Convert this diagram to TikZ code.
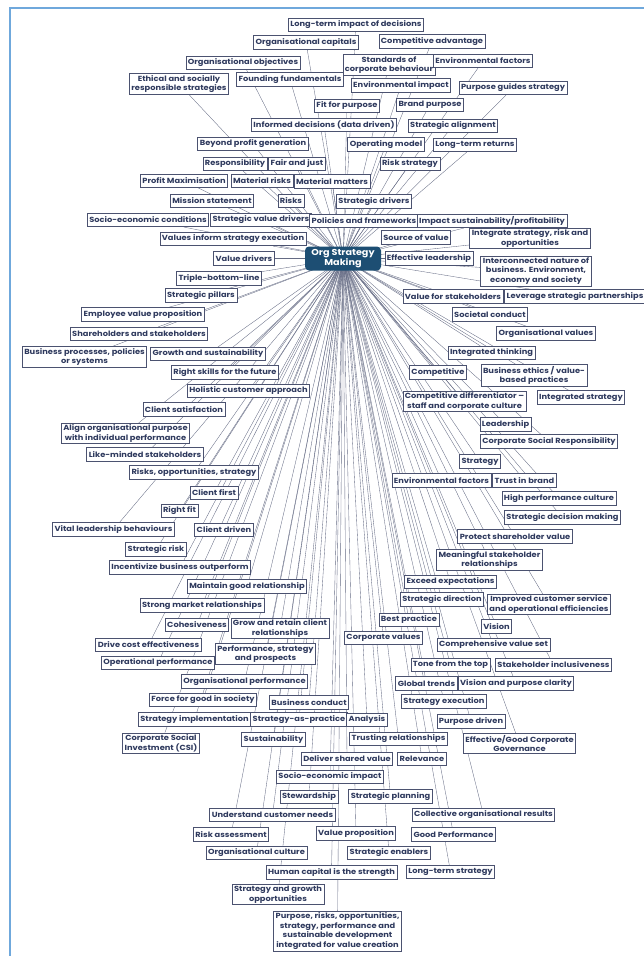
\documentclass[tikz,border=0pt]{standalone}
\usepackage{fontspec}
\setmainfont{Poppins}[FakeStretch=1.12]
\usetikzlibrary{backgrounds}
\definecolor{navy}{HTML}{2F3A5E}
\definecolor{edge}{HTML}{4B5270}
\definecolor{spoke}{HTML}{656B84}
\definecolor{hubfill}{HTML}{1D4E73}
\definecolor{frame}{HTML}{6FA8DC}

\begin{document}
\begin{tikzpicture}[x=1pt, y=-1pt,
    lbl/.style={draw=edge, fill=white, line width=0.7pt, text=navy,
        font=\fontsize{7.4}{9.6}\selectfont\bfseries, align=center,
        inner xsep=2pt, inner ysep=1.5pt, minimum height=13.5pt},
    hub/.style={fill=hubfill, rounded corners=4pt, text=white,
        font=\fontsize{8.6}{10}\selectfont\bfseries, align=center,
        minimum width=76pt, minimum height=24pt, inner sep=1pt},
    link/.style={draw=spoke, line width=0.35pt}]
    \useasboundingbox (0,0) rectangle (644,956);
    % blue frame
    \draw[frame, line width=2pt] (10,956) -- (10,8) -- (644,8);

    \node (org) [hub] at (343,258.5) {Org Strategy\\Making};

    % above the hub
    \node (ltimpact) [lbl] at (356,25) {Long-term impact of decisions};
    \node (orgcap) [lbl] at (306,42.5) {Organisational capitals};
    \node (compadv) [lbl] at (432,41.5) {Competitive advantage};
    \node (orgobj) [lbl] at (243,63) {Organisational objectives};
    \node (standards) [lbl] at (389,65) {Standards of\\corporate behaviour};
    \node (envfact) [lbl] at (483,61) {Environmental factors};
    \node (ethical) [lbl] at (179,84) {Ethical and socially\\responsible strategies};
    \node (founding) [lbl] at (290,79.5) {Founding fundamentals};
    \node (envimpact) [lbl] at (401,85.5) {Environmental impact};
    \node (purpguides) [lbl] at (513,88) {Purpose guides strategy};
    \node (fitpurp) [lbl] at (347,106) {Fit for purpose};
    \node (brandpurp) [lbl] at (430,105) {Brand purpose};
    \node (informed) [lbl] at (324,125) {Informed decisions (data driven)};
    \node (stratalign) [lbl] at (453,126) {Strategic alignment};
    \node (beyondprofit) [lbl] at (253,144) {Beyond profit generation};
    \node (opmodel) [lbl] at (386,144.5) {Operating model};
    \node (ltreturns) [lbl] at (475,145) {Long-term returns};
    \node (respons) [lbl] at (235,164) {Responsibility};
    \node (fairjust) [lbl] at (297,164) {Fair and just};
    \node (riskstrat) [lbl] at (410,164) {Risk strategy};
    \node (profitmax) [lbl] at (184,181) {Profit Maximisation};
    \node (matrisks) [lbl] at (262,181) {Material risks};
    \node (matmatters) [lbl] at (332,181.5) {Material matters};
    \node (mission) [lbl] at (212,201) {Mission statement};
    \node (risks) [lbl] at (291,201) {Risks};
    \node (stratdrivers) [lbl] at (374,201.5) {Strategic drivers};
    \node (socioecon) [lbl] at (148,220) {Socio-economic conditions};
    \node (stratvaldrv) [lbl] at (261,220) {Strategic value drivers};
    \node (policies) [lbl] at (364,221) {Policies and frameworks};
    \node (impactsust) [lbl] at (492,221) {Impact sustainability/profitability};
    \node (valinform) [lbl] at (233,239) {Values inform strategy execution};
    \node (sourceval) [lbl] at (416,237.5) {Source of value};
    \node (integrisk) [lbl] at (530,238.5) {Integrate strategy, risk and\\opportunities};

    % beside the hub
    \node (effleader) [lbl] at (429,258.5) {Effective leadership};
    \node (interconn) [lbl] at (536,271) {Interconnected nature of\\business. Environment,\\economy and society};
    \node (valdrivers) [lbl] at (244,258.5) {Value drivers};
    \node (triple) [lbl] at (219,278.5) {Triple-bottom-line};
    \node (pillars) [lbl] at (201,295.5) {Strategic pillars};
    \node (valstake) [lbl] at (453,296.5) {Value for stakeholders};
    \node (leverage) [lbl] at (575,296.5) {Leverage strategic partnerships};
    \node (evp) [lbl] at (143,314.5) {Employee value proposition};
    \node (societal) [lbl] at (490,314.5) {Societal conduct};
    \node (sharehold) [lbl] at (139,334) {Shareholders and stakeholders};
    \node (orgvalues) [lbl] at (546,333.5) {Organisational values};
    \node (bizproc) [lbl] at (84.5,357) {Business processes, policies\\or systems};
    \node (growth) [lbl] at (208,354) {Growth and sustainability};
    \node (intthink) [lbl] at (491.5,353) {Integrated thinking};
    \node (rightskills) [lbl] at (225,372.5) {Right skills for the future};
    \node (competitive) [lbl] at (438,372.5) {Competitive};
    \node (bizethics) [lbl] at (534,375.5) {Business ethics / value-\\based practices};
    \node (holistic) [lbl] at (248.5,391) {Holistic customer approach};
    \node (compdiff) [lbl] at (464.5,401.5) {Competitive differentiator --\\staff and corporate culture};
    \node (intstrat) [lbl] at (581,397.5) {Integrated strategy};
    \node (clientsat) [lbl] at (184,409.5) {Client satisfaction};
    \node (alignpurp) [lbl] at (125.5,433.5) {Align organisational purpose\\with individual performance};
    \node (leadership) [lbl] at (505.5,424.5) {Leadership};
    \node (csr) [lbl] at (549,441.5) {Corporate Social Responsibility};
    \node (likeminded) [lbl] at (145,454.5) {Like-minded stakeholders};
    \node (strategy) [lbl] at (480,461.5) {Strategy};
    \node (riskopp) [lbl] at (194,472.5) {Risks, opportunities, strategy};
    \node (envfact2) [lbl] at (441.5,480.5) {Environmental factors};
    \node (trust) [lbl] at (524.5,480.5) {Trust in brand};
    \node (clientfirst) [lbl] at (214,493) {Client first};
    \node (highperf) [lbl] at (559,498.5) {High performance culture};
    \node (rightfit) [lbl] at (179.5,511) {Right fit};
    \node (stratdec) [lbl] at (562.5,517.5) {Strategic decision making};
    \node (vital) [lbl] at (113.5,529.5) {Vital leadership behaviours};
    \node (clientdriven) [lbl] at (224,530) {Client driven};
    \node (protect) [lbl] at (515,536.5) {Protect shareholder value};
    \node (stratrisk) [lbl] at (156,549.5) {Strategic risk};
    \node (meaningful) [lbl] at (489.5,560) {Meaningful stakeholder\\relationships};
    \node (incentivize) [lbl] at (180,567.5) {Incentivize business outperform};

    % below the hub
    \node (maintain) [lbl] at (247,586.5) {Maintain good relationship};
    \node (exceed) [lbl] at (450.5,582) {Exceed expectations};
    \node (stratdir) [lbl] at (442,599.5) {Strategic direction};
    \node (improved) [lbl] at (549,604.5) {Improved customer service\\and operational efficiencies};
    \node (strongmkt) [lbl] at (202,605.5) {Strong market relationships};
    \node (cohesive) [lbl] at (197,625) {Cohesiveness};
    \node (growretain) [lbl] at (280,628.5) {Grow and retain client\\relationships};
    \node (bestprac) [lbl] at (409,620) {Best practice};
    \node (vision) [lbl] at (496.5,626.5) {Vision};
    \node (drivecost) [lbl] at (148.5,645) {Drive cost effectiveness};
    \node (perfstrat) [lbl] at (265.5,654) {Performance, strategy\\and prospects};
    \node (corpvalues) [lbl] at (383.5,638) {Corporate values};
    \node (compvalset) [lbl] at (493.5,645) {Comprehensive value set};
    \node (opperf) [lbl] at (158,663) {Operational performance};
    \node (tone) [lbl] at (450.5,665) {Tone from the top};
    \node (stakeincl) [lbl] at (553.5,665) {Stakeholder inclusiveness};
    \node (orgperf) [lbl] at (244.5,681.5) {Organisational performance};
    \node (global) [lbl] at (426.5,683.5) {Global trends};
    \node (visionclar) [lbl] at (516,683.5) {Vision and purpose clarity};
    \node (forcegood) [lbl] at (203,700) {Force for good in society};
    \node (bizconduct) [lbl] at (309,702.5) {Business conduct};
    \node (stratexec) [lbl] at (444,701.5) {Strategy execution};
    \node (stratimpl) [lbl] at (194.5,719.5) {Strategy implementation};
    \node (stratprac) [lbl] at (299,719.5) {Strategy-as-practice};
    \node (analysis) [lbl] at (367,720) {Analysis};
    \node (purpdriven) [lbl] at (471,721.5) {Purpose driven};
    \node (csi) [lbl] at (161,743) {Corporate Social\\Investment (CSI)};
    \node (sustain) [lbl] at (273.5,739.5) {Sustainability};
    \node (trusting) [lbl] at (398.5,739) {Trusting relationships};
    \node (governance) [lbl] at (519.5,743.5) {Effective/Good Corporate\\Governance};
    \node (shared) [lbl] at (347,759) {Deliver shared value};
    \node (relevance) [lbl] at (422,759) {Relevance};
    \node (socioimpact) [lbl] at (330,777) {Socio-economic impact};
    \node (steward) [lbl] at (309,797) {Stewardship};
    \node (stratplan) [lbl] at (390.5,796.5) {Strategic planning};
    \node (understand) [lbl] at (272.5,815) {Understand customer needs};
    \node (collective) [lbl] at (483.5,815) {Collective organisational results};
    \node (riskassess) [lbl] at (231,834.5) {Risk assessment};
    \node (valprop) [lbl] at (356,833.5) {Value proposition};
    \node (goodperf) [lbl] at (453.5,834.5) {Good Performance};
    \node (orgculture) [lbl] at (256.5,853) {Organisational culture};
    \node (enablers) [lbl] at (389,853) {Strategic enablers};
    \node (humancap) [lbl] at (331.5,872.5) {Human capital is the strength};
    \node (ltstrat) [lbl] at (450.5,872) {Long-term strategy};
    \node (stratgrowth) [lbl] at (278,894.5) {Strategy and growth\\opportunities};
    \node (purpose) [lbl] at (337.5,931) {Purpose, risks, opportunities,\\strategy, performance and\\sustainable development\\integrated for value creation};

    % spokes from the hub, kept behind the boxes
    \begin{scope}[on background layer]
    \foreach \n in {ltimpact, orgcap, compadv, orgobj, standards, envfact, ethical,
        founding, envimpact, purpguides, fitpurp, brandpurp, informed, stratalign,
        beyondprofit, opmodel, ltreturns, respons, fairjust, riskstrat, profitmax,
        matrisks, matmatters, mission, risks, stratdrivers, socioecon, stratvaldrv,
        policies, impactsust, valinform, sourceval, integrisk, effleader, interconn,
        valdrivers, triple, pillars, valstake, leverage, evp, societal, sharehold,
        orgvalues, bizproc, growth, intthink, rightskills, competitive, bizethics,
        holistic, compdiff, intstrat, clientsat, alignpurp, leadership, csr,
        likeminded, strategy, riskopp, envfact2, trust, clientfirst, highperf,
        rightfit, stratdec, vital, clientdriven, protect, stratrisk, meaningful,
        incentivize, maintain, exceed, stratdir, improved, strongmkt, cohesive,
        growretain, bestprac, vision, drivecost, perfstrat, corpvalues, compvalset,
        opperf, tone, stakeincl, orgperf, global, visionclar, forcegood, bizconduct,
        stratexec, stratimpl, stratprac, analysis, purpdriven, csi, sustain,
        trusting, governance, shared, relevance, socioimpact, steward, stratplan,
        understand, collective, riskassess, valprop, goodperf, orgculture,
        enablers, humancap, ltstrat, stratgrowth, purpose}
        \draw[link] (org.center) -- (\n);
    \end{scope}
\end{tikzpicture}
\end{document}
